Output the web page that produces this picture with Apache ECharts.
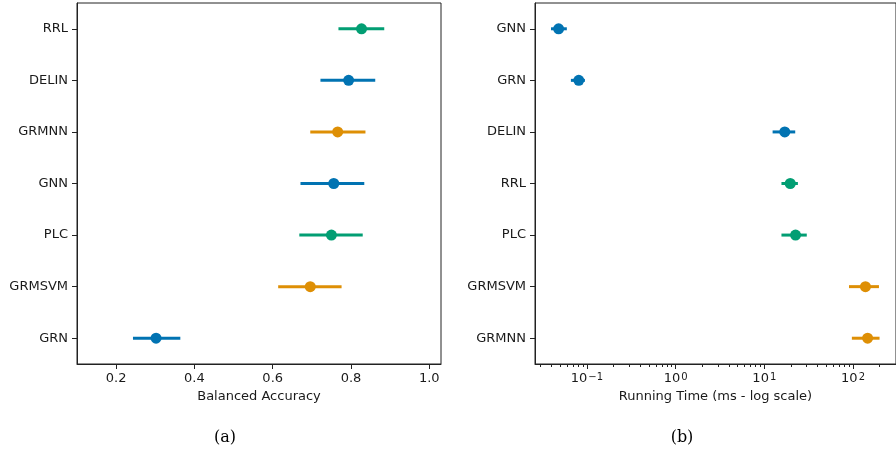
<!DOCTYPE html>
<html>
<head>
<meta charset="utf-8">
<script src="https://cdn.jsdelivr.net/npm/echarts@6/dist/echarts.min.js"></script>
<style>html,body{margin:0;padding:0;background:#fff}#c{width:896px;height:455px}</style>
</head>
<body>
<div id="c"></div>
<script>
// ---- data: panel (a) balanced accuracy ----
const accCategories = ['RRL', 'DELIN', 'GRMNN', 'GNN', 'PLC', 'GRMSVM', 'GRN'];
const accMean = [0.827, 0.794, 0.766, 0.756, 0.750, 0.696, 0.302];
const accLow  = [0.768, 0.722, 0.696, 0.671, 0.668, 0.614, 0.243];
const accHigh = [0.885, 0.862, 0.837, 0.834, 0.830, 0.776, 0.364];
const accTicks = [0.2, 0.4, 0.6, 0.8, 1.0];

// ---- data: panel (b) running time (ms) ----
const timeCategories = ['GNN', 'GRN', 'DELIN', 'RRL', 'PLC', 'GRMSVM', 'GRMNN'];
const timeMean = [0.048, 0.081, 17.0, 19.6, 22.5, 138, 146];
const timeLow  = [0.0394, 0.066, 12.4, 15.6, 15.6, 90, 97];
const timeHigh = [0.0594, 0.095, 22.3, 23.9, 30.1, 196, 199];
const timeMajorTicks = [0.1, 1, 10, 100];
const timeMinorTicks = [0.03,0.04,0.05,0.06,0.07,0.08,0.09,
  0.2,0.3,0.4,0.5,0.6,0.7,0.8,0.9, 2,3,4,5,6,7,8,9, 20,30,40,50,60,70,80,90, 200];

// ---- style ----
const methodColor = {
  GNN: '#0173b2', GRN: '#0173b2', DELIN: '#0173b2',
  RRL: '#029e73', PLC: '#029e73',
  GRMNN: '#de8f05', GRMSVM: '#de8f05'
};
const TXT = '#1a1a1a';
const SPINE = '#222';
const FONT = 'DejaVu Sans';

function errData(cats, lo, hi) {
  return cats.map((c, i) => ({ value: [lo[i], hi[i], i], itemStyle: { color: methodColor[c] } }));
}
function ptData(cats, m) {
  return cats.map((c, i) => ({ value: [m[i], i], itemStyle: { color: methodColor[c], opacity: 1 } }));
}
function renderErr(params, api) {
  const a = api.coord([api.value(0), api.value(2)]);
  const b = api.coord([api.value(1), api.value(2)]);
  return {
    type: 'line',
    shape: { x1: a[0], y1: a[1], x2: b[0], y2: b[1] },
    style: { stroke: api.visual('color'), lineWidth: 3 }
  };
}
function catAxis(gridIndex, cats) {
  return {
    type: 'category', gridIndex: gridIndex, data: cats, inverse: true, boundaryGap: true,
    axisLine: { show: true, lineStyle: { color: SPINE, width: 1 } },
    axisTick: { show: true, alignWithLabel: true, length: 5, lineStyle: { color: SPINE } },
    axisLabel: { color: TXT, fontSize: 13, fontFamily: FONT, margin: 9 },
    splitLine: { show: false }
  };
}

const chart = echarts.init(document.getElementById('c'), null, { renderer: 'canvas' });
chart.setOption({
  backgroundColor: '#fff',
  animation: false,
  grid: [
    { left: 77, top: 3, width: 364, height: 361, show: true, borderColor: SPINE, borderWidth: 1, backgroundColor: 'transparent' },
    { left: 535, top: 3, right: -6, height: 361, show: true, borderColor: SPINE, borderWidth: 1, backgroundColor: 'transparent' }
  ],
  xAxis: [
    {
      type: 'value', gridIndex: 0, min: 0.1, max: 1.03,
      name: 'Balanced Accuracy', nameLocation: 'middle', nameGap: 26,
      nameTextStyle: { color: TXT, fontSize: 13, fontFamily: FONT },
      axisLine: { show: true, lineStyle: { color: SPINE, width: 1 } },
      axisTick: { show: true, length: 5, customValues: accTicks, lineStyle: { color: SPINE } },
      axisLabel: { color: TXT, fontSize: 13, fontFamily: FONT, margin: 8, customValues: accTicks,
        formatter: v => v.toFixed(1) },
      splitLine: { show: false }
    },
    {
      type: 'log', gridIndex: 1, logBase: 10, min: 0.026, max: 305,
      name: 'Running Time (ms - log scale)', nameLocation: 'middle', nameGap: 26,
      nameTextStyle: { color: TXT, fontSize: 13, fontFamily: FONT },
      axisLine: { show: true, lineStyle: { color: SPINE, width: 1 } },
      axisTick: { show: true, length: 5, customValues: timeMajorTicks, lineStyle: { color: SPINE } },
      axisLabel: { color: TXT, fontSize: 13, fontFamily: FONT, margin: 8, customValues: timeMajorTicks,
        formatter: v => '10{sup|' + String(Math.round(Math.log10(v))).replace('-', '\u2212') + '}',
        rich: { sup: { fontSize: 10, fontFamily: FONT, color: TXT, verticalAlign: 'top', padding: [0, 0, 0, 1] } } },
      splitLine: { show: false }
    },
    {
      type: 'log', gridIndex: 1, logBase: 10, min: 0.026, max: 305, position: 'bottom', offset: 0,
      axisLine: { show: false },
      axisTick: { show: true, length: 3, customValues: timeMinorTicks, lineStyle: { color: SPINE } },
      axisLabel: { show: false, customValues: timeMinorTicks },
      splitLine: { show: false }
    }
  ],
  yAxis: [catAxis(0, accCategories), catAxis(1, timeCategories)],
  series: [
    { type: 'custom', xAxisIndex: 0, yAxisIndex: 0, renderItem: renderErr,
      encode: { x: [0, 1], y: 2 }, data: errData(accCategories, accLow, accHigh), z: 2 },
    { type: 'scatter', xAxisIndex: 0, yAxisIndex: 0, symbol: 'circle', symbolSize: 11,
      itemStyle: { opacity: 1 }, data: ptData(accCategories, accMean), z: 3 },
    { type: 'custom', xAxisIndex: 1, yAxisIndex: 1, renderItem: renderErr,
      encode: { x: [0, 1], y: 2 }, data: errData(timeCategories, timeLow, timeHigh), z: 2 },
    { type: 'scatter', xAxisIndex: 1, yAxisIndex: 1, symbol: 'circle', symbolSize: 11,
      itemStyle: { opacity: 1 }, data: ptData(timeCategories, timeMean), z: 3 }
  ],
  graphic: [
    { type: 'text', x: 225, y: 438, style: { text: '(a)', fill: '#000', font: '16px "DejaVu Serif"', align: 'center', verticalAlign: 'middle' } },
    { type: 'text', x: 682, y: 438, style: { text: '(b)', fill: '#000', font: '16px "DejaVu Serif"', align: 'center', verticalAlign: 'middle' } }
  ]
});
</script>
</body>
</html>
